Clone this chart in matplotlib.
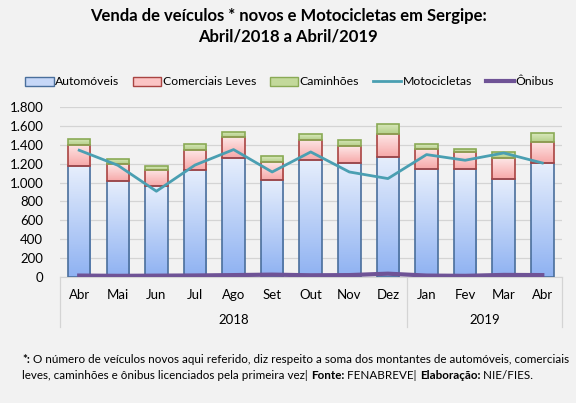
import numpy as np
import matplotlib.pyplot as plt
from matplotlib.colors import LinearSegmentedColormap
from matplotlib.patches import Patch
from matplotlib.lines import Line2D

plt.rcParams['font.family'] = ['Lato', 'DejaVu Sans']

meses = ['Abr', 'Mai', 'Jun', 'Jul', 'Ago', 'Set', 'Out', 'Nov', 'Dez',
         'Jan', 'Fev', 'Mar', 'Abr']
anos = ['2018', '2019']
automoveis = [1172, 1021, 960, 1137, 1264, 1031, 1236, 1207, 1271, 1140, 1140, 1042, 1207]
comerciais = [223, 179, 170, 205, 219, 187, 219, 177, 240, 220, 180, 218, 223]
caminhoes = [67, 54, 42, 70, 57, 63, 59, 71, 106, 52, 40, 68, 95]
motocicletas = [1342, 1183, 908, 1185, 1349, 1112, 1324, 1112, 1042, 1296, 1236, 1313, 1207]
onibus = [15, 12, 14, 16, 20, 25, 18, 20, 35, 15, 12, 22, 20]

bg = '#f2f2f2'
fig = plt.figure(figsize=(5.76, 4.03), dpi=100, facecolor=bg)
ax = fig.add_axes([0.104, 0.3127, 0.871, 0.4218], facecolor=bg)

x = np.arange(len(meses))
w = 0.585


def grad_bars(bottom, vals, top_c, bot_c, edge):
    cmap = LinearSegmentedColormap.from_list('g', [bot_c, top_c])
    grad = np.linspace(0, 1, 64).reshape(-1, 1)
    bars = ax.bar(x, vals, w, bottom=bottom, color='none', edgecolor=edge,
                  linewidth=1.2, zorder=3)
    for b in bars:
        x0, y0 = b.get_x(), b.get_y()
        im = ax.imshow(grad, cmap=cmap, origin='lower', aspect='auto',
                       extent=[x0, x0 + b.get_width(), y0, y0 + b.get_height()],
                       zorder=2)
        im.set_clip_path(b)
    return bars


auto = np.array(automoveis)
com = np.array(comerciais)
grad_bars(0, auto, '#e6eefc', '#8fb2f2', '#4a6f9c')
grad_bars(auto, com, '#fde6e6', '#f7a9a9', '#a94442')
grad_bars(auto + com, caminhoes, '#d9e8bc', '#b5d08a', '#8aaa55')

ax.plot(x, motocicletas, color='#4a9fb2', linewidth=2, zorder=4)
ax.plot(x, onibus, color='#6f5396', linewidth=3, zorder=4)

ax.set_xlim(-0.5, len(meses) - 0.5)
ax.set_ylim(0, 1800)
ax.set_yticks(range(0, 1801, 200))
ax.set_yticklabels([f'{v:,}'.replace(',', '.') for v in range(0, 1801, 200)],
                   fontsize=9.5)
ax.grid(axis='y', color='#d4d4d4', linewidth=0.9, zorder=0)
ax.tick_params(axis='y', length=0, pad=12)
ax.tick_params(axis='x', length=0, pad=9, labelsize=9.5)
ax.set_xticks(x)
ax.set_xticklabels(meses)
for s in ['top', 'right', 'left']:
    ax.spines[s].set_visible(False)
ax.spines['bottom'].set_color('#d4d4d4')

# separadores do eixo de categorias
xt = ax.get_xaxis_transform()
for xs in [-0.5, 8.5, 12.5]:
    ax.plot([xs, xs], [0, -0.295], transform=xt,
            color='#d4d4d4', linewidth=0.9, clip_on=False)
ax.text(4, -0.255, anos[0], transform=xt, ha='center', va='center', fontsize=9.5)
ax.text(10.5, -0.255, anos[1], transform=xt, ha='center', va='center', fontsize=9.5)

handles = [
    Patch(facecolor='#c6d7f7', edgecolor='#4a6f9c', label='Automóveis'),
    Patch(facecolor='#fbc4c4', edgecolor='#a94442', label='Comerciais Leves'),
    Patch(facecolor='#c3d99b', edgecolor='#8aaa55', label='Caminhões'),
    Line2D([], [], color='#4a9fb2', linewidth=2, label='Motocicletas'),
    Line2D([], [], color='#6f5396', linewidth=3, label='Ônibus'),
]
fig.legend(handles=handles, loc='center', bbox_to_anchor=(0.503, 0.797), ncol=5,
           frameon=False, fontsize=8.8, handlelength=2.3, handleheight=0.75,
           handletextpad=0.15, columnspacing=1.1, borderpad=0)

fig.text(0.5, 0.961, 'Venda de veículos * novos e Motocicletas em Sergipe:',
         ha='center', va='center', fontsize=12, fontweight='bold')
fig.text(0.5, 0.909, 'Abril/2018 a Abril/2019',
         ha='center', va='center', fontsize=12, fontweight='bold')

# nota de rodapé com trechos em negrito
renderer = fig.canvas.get_renderer()


def rich_line(parts, x0, y0):
    xc = x0
    for txt, bold in parts:
        t = fig.text(xc, y0, txt, ha='left', va='center', fontsize=8.35,
                     fontweight='bold' if bold else 'normal')
        bb = t.get_window_extent(renderer=renderer)
        xc += bb.width / fig.bbox.width


rich_line([('*:', True),
           (' O número de veículos novos aqui referido, diz respeito a soma dos montantes de automóveis, comerciais', False)],
          0.039, 0.107)
rich_line([('leves, caminhões e ônibus licenciados pela primeira vez| ', False),
           ('Fonte:', True), (' FENABREVE| ', False),
           ('Elaboração:', True), (' NIE/FIES.', False)],
          0.039, 0.067)

fig.savefig('out.png', dpi=100, facecolor=bg)
